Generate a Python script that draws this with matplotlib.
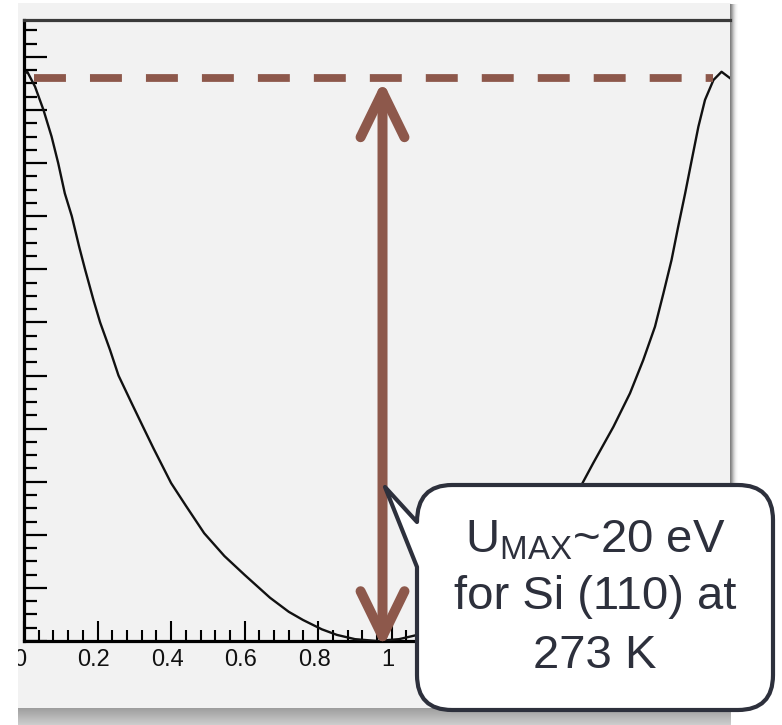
import matplotlib
matplotlib.use('Agg')
import matplotlib.pyplot as plt
import numpy as np
from matplotlib.patches import Rectangle, PathPatch, ArrowStyle
from matplotlib.path import Path
from matplotlib.transforms import IdentityTransform, ScaledTranslation
from matplotlib.ticker import MultipleLocator

# ---------------- data ----------------
x_pos = [0.000, 0.009, 0.030, 0.053, 0.075, 0.093, 0.111, 0.130, 0.150, 0.166,
         0.189, 0.207, 0.234, 0.257, 0.293, 0.325, 0.352, 0.400, 0.440, 0.490,
         0.545, 0.600, 0.669, 0.720, 0.759, 0.810, 0.851, 0.900, 0.960, 1.020,
         1.070, 1.110, 1.160, 1.200, 1.250, 1.320, 1.375, 1.430, 1.480, 1.517,
         1.548, 1.603, 1.648, 1.684, 1.716, 1.739, 1.761, 1.779, 1.798, 1.816,
         1.834, 1.852, 1.875, 1.897, 1.920]
potential = [21.35, 21.44, 20.88, 20.00, 19.00, 18.00, 16.86, 16.00, 14.85, 14.00,
             12.84, 12.00, 10.96, 10.00, 8.95, 8.03, 7.26, 5.95, 5.10, 4.06,
             3.20, 2.49, 1.63, 1.10, 0.79, 0.44, 0.23, 0.07, 0.00, 0.07,
             0.23, 0.44, 0.79, 1.10, 1.63, 2.49, 3.20, 4.06, 5.05, 5.90,
             6.70, 8.07, 9.33, 10.58, 11.84, 13.10, 14.35, 15.60, 16.86, 18.12,
             19.37, 20.38, 21.13, 21.44, 21.20]
u_max = 21.2
u_min = 0.0
x_arrow = 0.975
dash_start, dash_end = 0.027, 1.875
x_ticks = [0, 0.2, 0.4, 0.6, 0.8, 1.0, 1.2, 1.4, 1.6, 1.8]
x_tick_labels = ['0', '0.2', '0.4', '0.6', '0.8', '1', '', '', '', '']
callout_lines = [r'U$_{\mathregular{MAX}}$~20 eV', 'for Si (110) at', '273 K']

# ---------------- styling ----------------
plt.rcParams['font.family'] = ['Liberation Sans', 'DejaVu Sans']
plt.rcParams['mathtext.fontset'] = 'custom'
plt.rcParams['mathtext.rm'] = 'Liberation Sans'
plt.rcParams['mathtext.it'] = 'Liberation Sans:italic'
plt.rcParams['lines.scale_dashes'] = False

BROWN = '#8d584b'
DARK = '#2d303c'
W, H = 782, 725

fig = plt.figure(figsize=(W / 100, H / 100), dpi=100)
fig.patch.set_facecolor('white')
ident = IdentityTransform()


def rect(x0, ytop, x1, ybot, **kw):
    return Rectangle((x0, H - ybot), x1 - x0, ybot - ytop, transform=ident, **kw)


# screenshot panel background
fig.add_artist(rect(18, 3, 731, 708, facecolor='#f2f2f2', edgecolor='none', zorder=-5))
# bottom gray band (gradient)
band_vals = np.linspace(0.62, 0.80, 17)
for i, v in enumerate(band_vals):
    fig.add_artist(rect(18, 708 + i, 731, 709 + i, facecolor=(v, v, v),
                        edgecolor='none', zorder=-4))
# right edge shadow
shadow_vals = [0.50, 0.58, 0.68, 0.78, 0.86, 0.92, 0.96, 0.985]
for i, v in enumerate(shadow_vals):
    fig.add_artist(rect(730 + i, 4, 731 + i, 708, facecolor=(v, v, v),
                        edgecolor='none', zorder=-4))

# ---------------- axes ----------------
ax = fig.add_axes([24 / W, (H - 641) / H, (730 - 24) / W, (641 - 20) / H])
ax.set_facecolor('none')
ax.set_xlim(0, 1.92)
ax.set_ylim(0, 23.39)

ax.plot(x_pos, potential, color='#111111', lw=1.7, solid_joinstyle='round', zorder=3)

# dashed Umax line
ax.plot([dash_start, dash_end], [u_max, u_max], color=BROWN, lw=5.6,
        dashes=(23, 17.3), dash_capstyle='butt', zorder=4)

# double-headed arrow
ax.annotate('', xy=(x_arrow, u_max - 0.1), xytext=(x_arrow, u_min - 0.25),
            arrowprops=dict(arrowstyle=ArrowStyle('<->', head_length=32.4, head_width=15.8),
                            mutation_scale=1, lw=7.2, color=BROWN,
                            capstyle='round', joinstyle='round',
                            shrinkA=0, shrinkB=0),
            zorder=5)

ax.set_xticks(x_ticks)
ax.set_xticklabels(x_tick_labels)
ax.xaxis.set_minor_locator(MultipleLocator(0.04))
ax.yaxis.set_major_locator(MultipleLocator(2))
ax.yaxis.set_minor_locator(MultipleLocator(0.5))
ax.tick_params(axis='x', which='major', direction='in', length=14.4, width=1.5,
               labelsize=17, pad=6, colors='black')
ax.tick_params(axis='x', which='minor', direction='in', length=8, width=1.5)
ax.tick_params(axis='y', which='major', direction='in', length=16.5, width=1.6,
               labelleft=False)
ax.tick_params(axis='y', which='minor', direction='in', length=9.4, width=1.6)
shift = ScaledTranslation(-4 / 100, 0, fig.dpi_scale_trans)
for lab in ax.get_xticklabels():
    lab.set_color('#111111')
    lab.set_transform(lab.get_transform() + shift)

ax.spines['left'].set_linewidth(2.3)
ax.spines['bottom'].set_linewidth(2.3)
ax.spines['top'].set_linewidth(2.3)
ax.spines['top'].set_color('#3a3a3a')
ax.spines['right'].set_visible(False)

# white mask to the left of the screenshot (clips the "0" label)
fig.add_artist(rect(0, 0, 18, H, facecolor='white', edgecolor='none', zorder=6))

# ---------------- speech-bubble callout ----------------
x0, x1, yt, yb, r = 417, 773, 485, 710, 35
tip = (385, 487)
pts = [
    ((x0 + r, yt), Path.MOVETO),
    ((x1 - r, yt), Path.LINETO),
    ((x1, yt), Path.CURVE3), ((x1, yt + r), Path.CURVE3),
    ((x1, yb - r), Path.LINETO),
    ((x1, yb), Path.CURVE3), ((x1 - r, yb), Path.CURVE3),
    ((x0 + r, yb), Path.LINETO),
    ((x0, yb), Path.CURVE3), ((x0, yb - r), Path.CURVE3),
    ((x0, 567), Path.LINETO),
    (tip, Path.LINETO),
    ((x0, yt + r + 2), Path.LINETO),
    ((x0, yt), Path.CURVE3), ((x0 + r, yt), Path.CURVE3),
    ((x0 + r, yt), Path.CLOSEPOLY),
]
verts = [(px, H - py) for (px, py), _ in pts]
codes = [c for _, c in pts]
bubble = PathPatch(Path(verts, codes), facecolor='white', edgecolor=DARK,
                   lw=3.0, joinstyle='round', transform=ident, zorder=7)
fig.add_artist(bubble)

cx = (x0 + x1) / 2
baselines = [553, 609, 668]
for line, yb_ in zip(callout_lines, baselines):
    fig.text(cx, H - yb_, line, transform=ident, ha='center', va='baseline',
             fontsize=34, color=DARK, zorder=8)

fig.savefig('out.png', dpi=100, facecolor='white')
